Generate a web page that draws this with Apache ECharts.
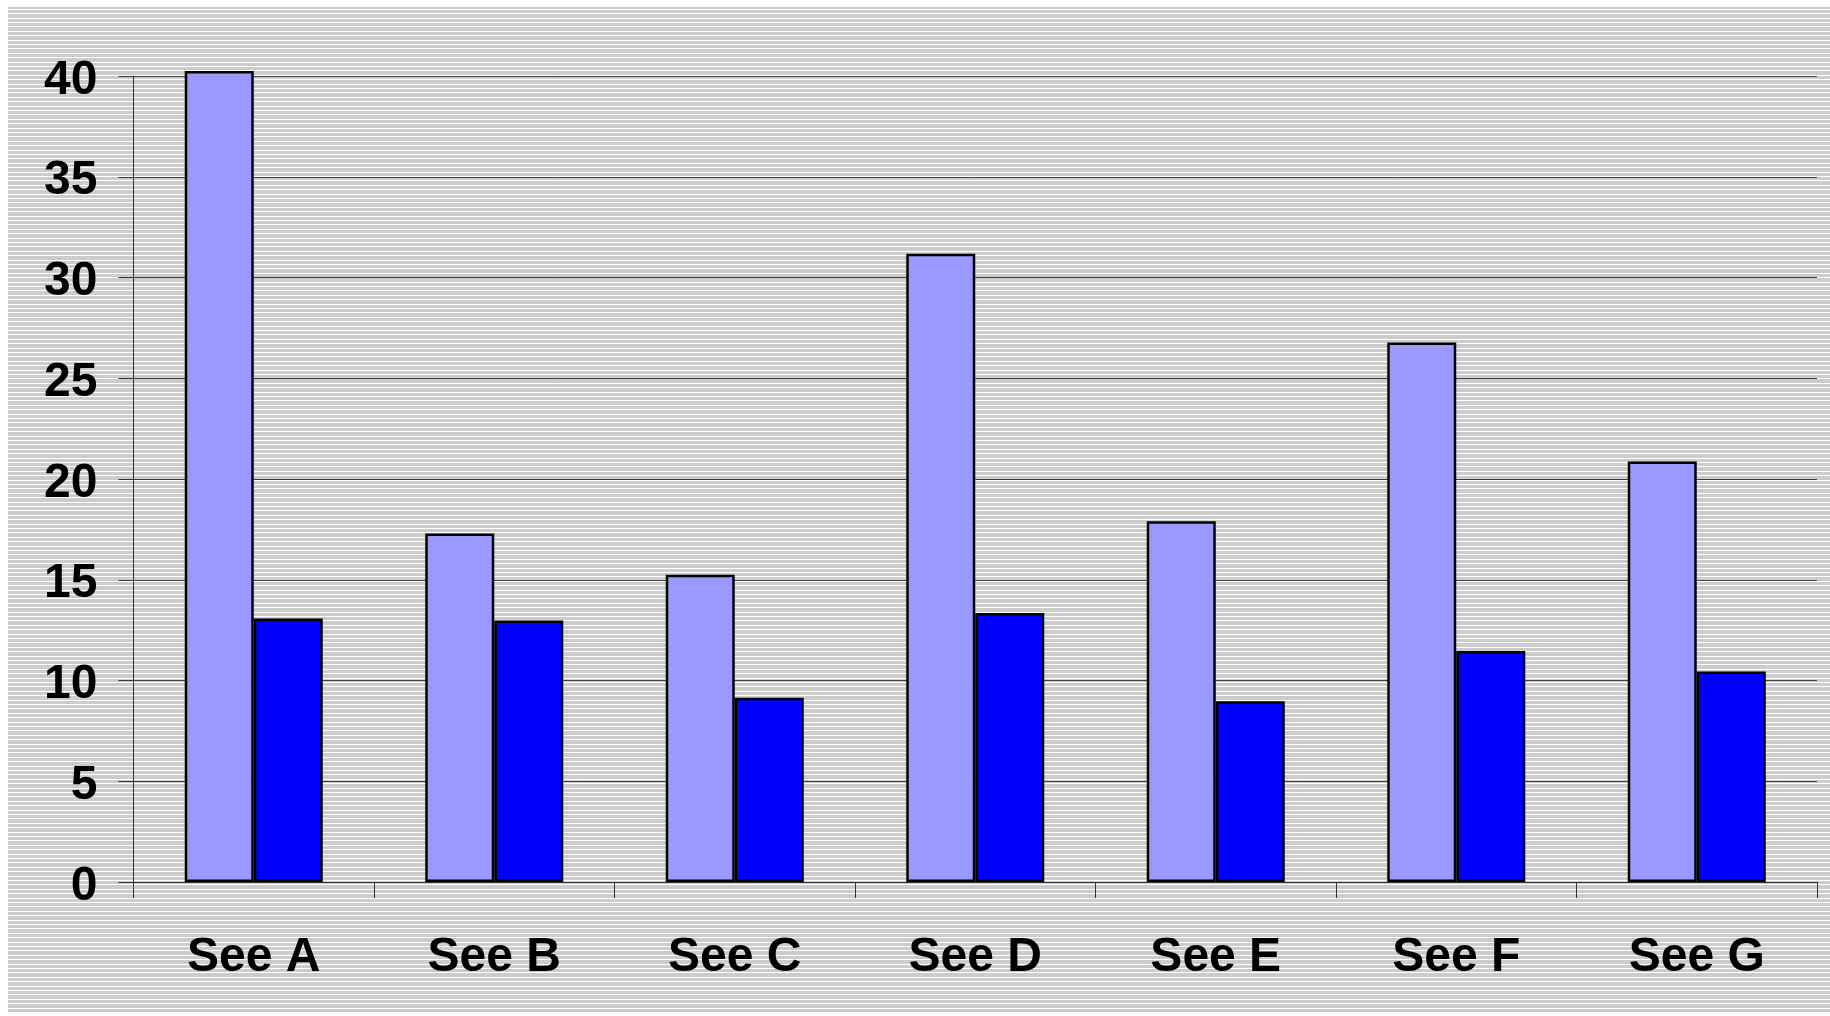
<!DOCTYPE html>
<html>
<head>
<meta charset="utf-8">
<script src="https://cdn.jsdelivr.net/npm/echarts@6/dist/echarts.min.js"></script>
<style>
  html, body { margin: 0; padding: 0; background: #ffffff; }
  #chart { width: 1830px; height: 1016px; }
</style>
</head>
<body>
<div id="chart"></div>
<script>
// Categories and the two value series
const categories = ['See A', 'See B', 'See C', 'See D', 'See E', 'See F', 'See G'];
const lightValues = [40.25, 17.3, 15.25, 31.18, 17.9, 26.78, 20.87];
const darkValues = [13.08, 12.98, 9.15, 13.35, 8.97, 11.47, 10.45];
// Value axis range and step
const yMin = 0;
const yMax = 40;
const yStep = 5;

// Striped grey backdrop: white 1px rows over grey, uneven 4/5px spacing
function makeStripes() {
  const c = document.createElement('canvas');
  c.width = 8;
  c.height = 22;
  const ctx = c.getContext('2d');
  ctx.fillStyle = '#cccccc';
  ctx.fillRect(0, 0, c.width, c.height);
  ctx.fillStyle = '#ffffff';
  [0, 4, 9, 13, 18].forEach(function (y) { ctx.fillRect(0, y, c.width, 1); });
  return c;
}

const font = "'Liberation Sans', Arial, sans-serif";
const chart = echarts.init(document.getElementById('chart'), null, { renderer: 'canvas' });

chart.setOption({
  animation: false,
  backgroundColor: '#ffffff',
  graphic: [{
    type: 'rect',
    z: -100,
    silent: true,
    shape: { x: 8, y: 7, width: 1822, height: 1006 },
    style: { fill: { image: makeStripes(), repeat: 'repeat' } }
  }],
  grid: { left: 133.5, right: 13, top: 76, bottom: 134 },
  xAxis: {
    type: 'category',
    data: categories,
    boundaryGap: true,
    axisLine: { show: true, lineStyle: { color: '#333333', width: 1 } },
    axisTick: { show: true, length: 16, lineStyle: { color: '#333333', width: 1 } },
    axisLabel: { margin: 52, color: '#000000', fontSize: 48, fontWeight: 'bold', fontFamily: font },
    splitLine: { show: false }
  },
  yAxis: {
    type: 'value',
    min: yMin,
    max: yMax,
    interval: yStep,
    axisLine: { show: true, lineStyle: { color: '#333333', width: 1 } },
    axisTick: { show: true, length: 15, lineStyle: { color: '#333333', width: 1 } },
    axisLabel: {
      margin: 36,
      verticalAlign: 'top',
      lineHeight: 9,
      color: '#000000',
      fontSize: 48,
      fontWeight: 'bold',
      fontFamily: font
    },
    splitLine: { show: true, lineStyle: { color: '#404040', width: 1 } }
  },
  series: [
    {
      type: 'bar',
      data: lightValues,
      barWidth: 69,
      barGap: '0%',
      clip: false,
      itemStyle: { color: '#9999ff', borderColor: '#000000', borderWidth: 2.5 }
    },
    {
      type: 'bar',
      data: darkValues,
      barWidth: 69,
      barGap: '0%',
      clip: false,
      itemStyle: { color: '#0000ff', borderColor: '#000000', borderWidth: 2.5 }
    }
  ]
});
</script>
</body>
</html>
